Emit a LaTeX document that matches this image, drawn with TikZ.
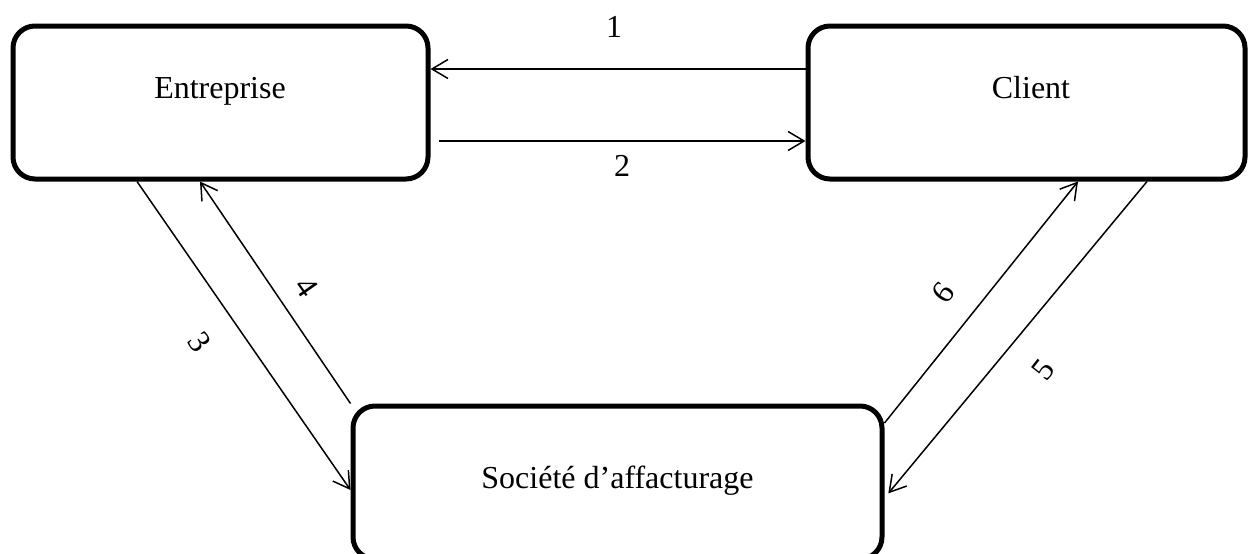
\documentclass[tikz,border=0pt]{standalone}
\usepackage{fontspec}
\setmainfont{Liberation Serif}
\usetikzlibrary{arrows.meta}
\begin{document}
\begin{tikzpicture}[x=1pt,y=-1pt,
  box/.style={draw, line width=5pt, rounded corners=22pt, minimum height=153pt, inner sep=0pt},
  lbl/.style={font=\fontsize{32}{38}\selectfont, inner sep=0pt},
  conn/.style={line width=1.5pt, -{Straight Barb[length=16pt,width=19pt]}}]
\useasboundingbox (0,0) rectangle (1248,554);
\node[box, minimum width=415pt] (ent) at (220.5,102.5) {};
\node[box, minimum width=437pt] (cli) at (1026.5,102.5) {};
\node[box, minimum width=529pt] (soc) at (617.5,482.5) {};
\node[lbl, anchor=base] (entT) at (220,98) {Entreprise};
\node[lbl, anchor=base] (cliT) at (1031,98) {Client};
\node[lbl, anchor=base] (socT) at (617.5,488) {Société d’affacturage};
\coordinate (y1) at (0,69);
\coordinate (y2) at (0,141);
\coordinate (x3) at (137,0);
\coordinate (y3) at (0,490);
\coordinate (x4) at (200,0);
\coordinate (x5) at (1147,0);
\coordinate (y5) at (0,498);
\coordinate (x6) at (1078,0);
\coordinate (y6) at (0,423);
\draw[conn] (cli.west |- y1) -- (ent.east |- y1);
\draw[conn, shorten <=8pt] (ent.east |- y2) -- (cli.west |- y2);
\draw[conn] (ent.south -| x3) -- (soc.west |- y3);
\draw[conn] (soc.north west) -- (ent.south -| x4);
\draw[conn, shorten >=6pt] (cli.south -| x5) -- (soc.east |- y5);
\draw[conn] (soc.east |- y6) -- (cli.south -| x6);
\node[lbl] (n1) at (614,27) {1};
\node[lbl] (n2) at (622,165.5) {2};
\node[lbl, rotate=-55] (n3) at (200,342) {3};
\node[lbl, rotate=-55] (n4) at (307,287) {4};
\node[lbl, rotate=52] (n5) at (1043,370) {5};
\node[lbl, rotate=52] (n6) at (943,293) {6};
\end{tikzpicture}
\end{document}
